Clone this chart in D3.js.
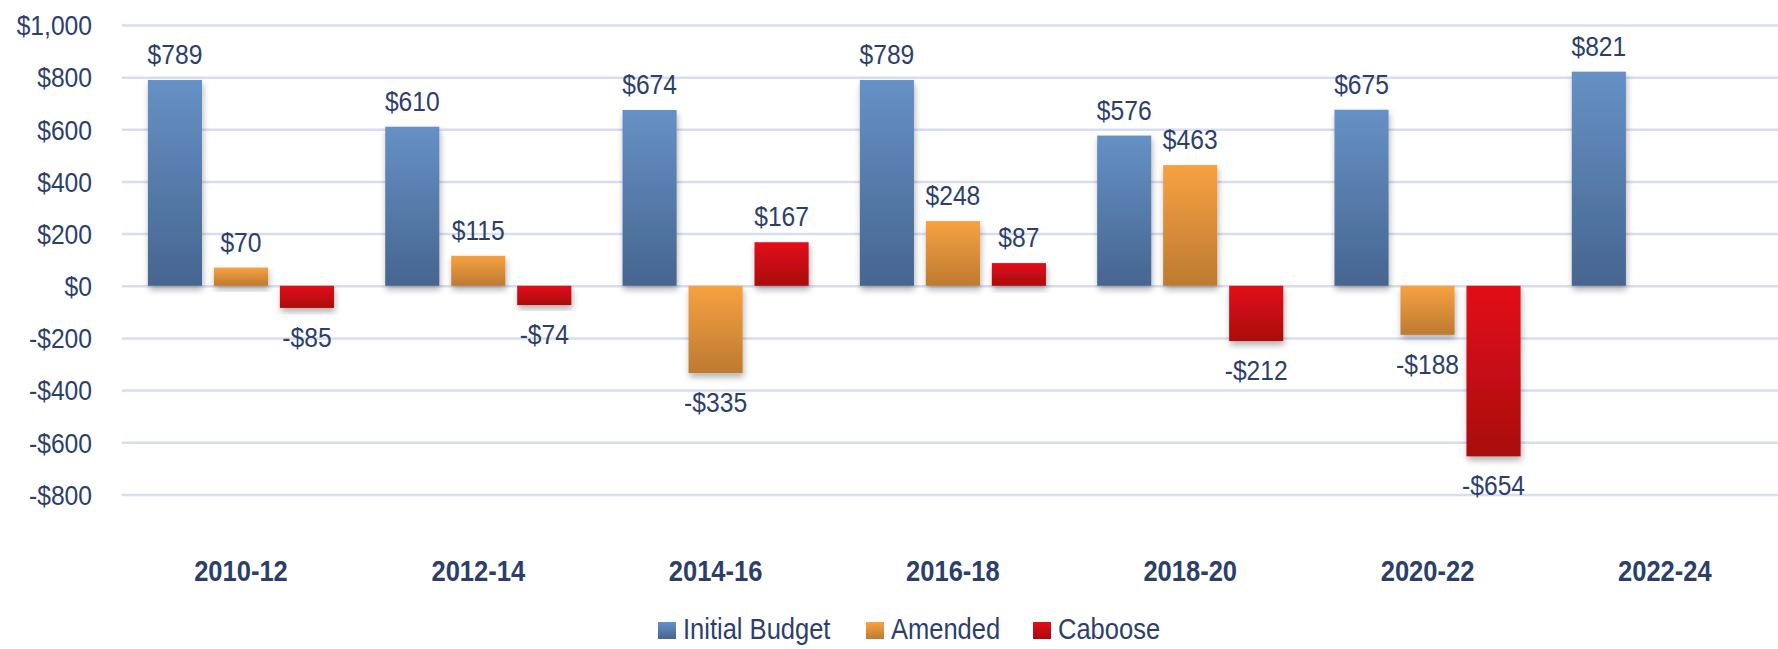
<!DOCTYPE html>
<html lang="en">
  <head>
    <meta charset="utf-8">
    <title>Budget</title>
    <script src="https://d3js.org/d3.v7.min.js"></script>
    <style>
      body { margin: 0; background: #fff; }
      text { font-family: "Liberation Sans", Arial, sans-serif; fill: #2C3F6C; }
      .tick text { font-size: 28px; }
      .valueLabel { font-size: 28px; }
      .catLabel { font-size: 29px; font-weight: bold; }
      .legendLabel { font-size: 29px; }
    </style>
  </head>
  <body>
    <div id="chart"></div>
    <script>

      var categories = ["2010-12", "2012-14", "2014-16", "2016-18", "2018-20", "2020-22", "2022-24"];
      var initialBudget = [789, 610, 674, 789, 576, 675, 821];
      var amended = [70, 115, -335, 248, 463, -188, null];
      var caboose = [-85, -74, 167, 87, -212, -654, null];
      var seriesNames = ["Initial Budget", "Amended", "Caboose"];
      var tickValues = [-800, -600, -400, -200, 0, 200, 400, 600, 800, 1000];

      var width = 1778;
      var height = 649;
      // text in the original is squeezed sideways
      var squeeze = 0.88;

      var colors = {
        "Initial Budget": ["#6691C5", "#46658F"],
        "Amended": ["#F7A241", "#BD7A31"],
        "Caboose": ["#E30E17", "#A9080E"]
      };

      var svg = d3.select("#chart")
        .append("svg")
        .attr("width", width)
        .attr("height", height);

      var defs = svg.append("defs");
      seriesNames.forEach(function(name, i){
        var g = defs.append("linearGradient")
          .attr("id", "grad" + i)
          .attr("x1", 0).attr("y1", 0).attr("x2", 0).attr("y2", 1);
        g.append("stop").attr("offset", "0%").attr("stop-color", colors[name][0]);
        g.append("stop").attr("offset", "100%").attr("stop-color", colors[name][1]);
      });
      var shadow = defs.append("filter")
        .attr("id", "shadow")
        .attr("x", "-30%").attr("y", "-30%").attr("width", "160%").attr("height", "160%");
      shadow.append("feDropShadow")
        .attr("dx", 1).attr("dy", 4)
        .attr("stdDeviation", 3)
        .attr("flood-color", "#000")
        .attr("flood-opacity", 0.3);

      var xScale = d3.scaleBand()
        .domain(categories)
        .range([122.3, 1783.5]);

      var xSub = d3.scaleBand()
        .domain(seriesNames)
        .range([25.6, xScale.step() - 25.6])
        .paddingInner(0.18);

      var yScale = d3.scaleLinear()
        .domain([-800, 1000])
        .range([494.4, 25]);

      // gridlines + tick labels
      var yAxis = svg.append("g")
        .attr("transform", "translate(122,0)")
        .call(d3.axisLeft(yScale)
          .tickValues(tickValues)
          .tickSize(-(width - 122))
          .tickFormat(function(d){
            return (d < 0 ? "-$" : "$") + d3.format(",")(Math.abs(d));
          }));
      yAxis.select(".domain").remove();
      yAxis.selectAll(".tick line")
        .attr("stroke", "#D8DEEF")
        .attr("stroke-width", 2.5);
      yAxis.selectAll(".tick text")
        .attr("fill", "#2C3F6C")
        .attr("x", 0)
        .attr("dy", "0.35em")
        .attr("text-anchor", "end")
        .attr("transform", "translate(-30,0) scale(" + squeeze + ",1)");

      var rows = [];
      categories.forEach(function(c, i){
        var vals = [initialBudget[i], amended[i], caboose[i]];
        vals.forEach(function(v, j){
          if (v !== null) rows.push({cat: c, series: seriesNames[j], idx: j, value: v});
        });
      });

      svg.selectAll(".bar")
        .data(rows)
        .enter()
        .append("rect")
          .attr("class", "bar")
          .attr("x", function(d){ return xScale(d.cat) + xSub(d.series); })
          .attr("y", function(d){ return yScale(Math.max(0, d.value)); })
          .attr("width", xSub.bandwidth())
          .attr("height", function(d){ return Math.abs(yScale(d.value) - yScale(0)); })
          .attr("fill", function(d){ return "url(#grad" + d.idx + ")"; })
          .attr("filter", "url(#shadow)");

      svg.selectAll(".valueLabel")
        .data(rows)
        .enter()
        .append("text")
          .attr("class", "valueLabel")
          .attr("text-anchor", "middle")
          .attr("transform", function(d){
            var x = xScale(d.cat) + xSub(d.series) + xSub.bandwidth() / 2;
            var y = d.value >= 0 ? yScale(d.value) - 16 : yScale(d.value) + 39;
            return "translate(" + x + "," + y + ") scale(" + squeeze + ",1)";
          })
          .text(function(d){ return (d.value < 0 ? "-$" : "$") + Math.abs(d.value); });

      svg.selectAll(".catLabel")
        .data(categories)
        .enter()
        .append("text")
          .attr("class", "catLabel")
          .attr("text-anchor", "middle")
          .attr("transform", function(d){
            return "translate(" + (xScale(d) + xScale.bandwidth() / 2) + ",581) scale(" + squeeze + ",1)";
          })
          .text(function(d){ return d; });

      // legend
      var legendX = [658, 866, 1033];
      var legend = svg.selectAll(".legendItem")
        .data(seriesNames)
        .enter()
        .append("g")
          .attr("class", "legendItem")
          .attr("transform", function(d, i){ return "translate(" + legendX[i] + ",0)"; });
      legend.append("rect")
        .attr("x", 0).attr("y", 622)
        .attr("width", 18).attr("height", 17)
        .attr("fill", function(d, i){ return "url(#grad" + i + ")"; });
      legend.append("text")
        .attr("class", "legendLabel")
        .attr("transform", "translate(25,639) scale(" + squeeze + ",1)")
        .text(function(d){ return d; });

    </script>
  </body>
</html>
